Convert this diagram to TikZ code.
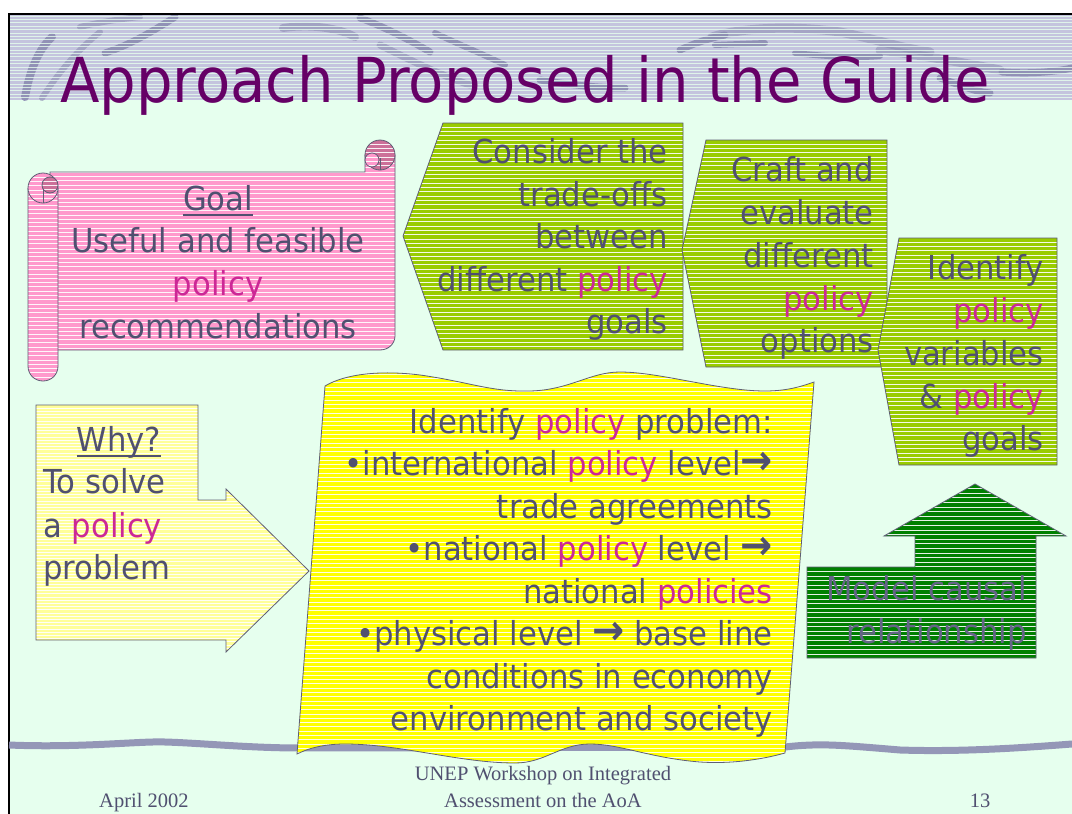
\documentclass[tikz,border=0pt]{standalone}
\usepackage{fontspec}
\setmainfont{DejaVu Sans}[FakeStretch=0.93]
\newfontfamily\footfont{Liberation Serif}
\definecolor{mint}{RGB}{230,255,238}
\definecolor{bandc}{RGB}{196,196,222}
\definecolor{swoosh}{RGB}{140,140,178}
\definecolor{titlec}{RGB}{102,0,102}
\definecolor{txtc}{RGB}{80,80,112}
\definecolor{polc}{RGB}{204,40,150}
\definecolor{modc}{RGB}{100,100,135}
\definecolor{edgec}{RGB}{95,95,118}
\definecolor{pinkc}{RGB}{255,153,204}
\definecolor{dpinkc}{RGB}{204,112,153}
\definecolor{greenc}{RGB}{153,204,0}
\definecolor{yellowc}{RGB}{255,255,0}
\definecolor{lyellowc}{RGB}{255,255,153}
\definecolor{dgreenc}{RGB}{0,128,0}
\definecolor{footc}{RGB}{80,80,112}
\newcommand\pw[1]{\textcolor{polc}{#1}}
\newcommand\arr{\raisebox{1pt}{\scalebox{1.25}{\bfseries →}}}
\tikzset{
  striped/.style 2 args={fill=#1, draw=edgec, line width=0.8pt,
     path picture={\foreach \k in {1,...,95}
        \draw[white, line width=0.9pt, opacity=0.9]
          ([yshift=-\k*#2]path picture bounding box.north west) --
          ([yshift=-\k*#2]path picture bounding box.north east);}},
  txt/.style={font=\fontsize{33}{43}\selectfont, text=txtc, inner sep=0pt},
  modtxt/.style={font=\fontsize{33}{43}\selectfont, text=modc, inner sep=0pt},
  foot/.style={font=\footfont\fontsize{20.5}{24}\selectfont, text=footc, inner sep=0pt},
  sw/.style={draw=swoosh, line cap=round, opacity=0.9},
  ul/.style={draw=txtc, line width=2pt},
}
\begin{document}
\begin{tikzpicture}[x=1pt,y=-1pt]
\useasboundingbox (0,0) rectangle (1072,814);
\fill[white] (0,0) rectangle (1072,814);
% frame and background
\fill[mint] (9,14) rectangle (1072,814);
\fill[bandc] (9,14) rectangle (1072,100);
% title swooshes
\draw[sw,line width=8pt] (25,97) .. controls (30,70) and (38,50) .. (52,37);
\draw[sw,line width=6pt,opacity=0.6] (42,98) .. controls (60,70) and (80,48) .. (100,32);
\draw[sw,line width=7pt] (105,53) .. controls (130,45) and (155,30) .. (175,17);
\draw[sw,line width=6pt,opacity=0.6] (80,27) .. controls (100,22) and (120,19) .. (140,17);
\draw[sw,line width=8pt,opacity=0.6] (283,28) .. controls (310,24) and (340,28) .. (355,37);
\draw[sw,line width=7pt] (360,18) .. controls (380,25) and (410,40) .. (430,52);
\draw[sw,line width=7pt,opacity=0.6] (380,45) .. controls (410,60) and (440,75) .. (470,85);
\draw[sw,line width=6pt] (435,33) .. controls (460,45) and (485,55) .. (505,65);
\draw[sw,line width=7pt] (540,80) .. controls (570,85) and (600,88) .. (625,88);
\draw[sw,line width=7pt] (680,50) .. controls (695,43) and (710,38) .. (725,35);
\draw[sw,line width=9pt,opacity=0.55] (712,37) .. controls (740,28) and (790,25) .. (840,32) .. controls (880,40) and (900,48) .. (930,52);
\draw[sw,line width=6pt] (715,45) -- (765,43);
\draw[sw,line width=6pt] (795,53) .. controls (830,57) and (860,58) .. (880,56);
\draw[sw,line width=9pt,opacity=0.55] (880,50) .. controls (920,55) and (960,62) .. (1000,70);
\draw[sw,line width=7pt] (940,78) .. controls (960,85) and (975,92) .. (990,93);
\draw[sw,line width=7pt] (1002,72) .. controls (1030,74) and (1055,72) .. (1072,68);
\foreach \k in {0,...,25} \draw[mint, line width=0.7pt, opacity=0.8] (9,16+\k*3.4) -- (1072,16+\k*3.4);
\draw[black,line width=1.3pt] (9,814) -- (9,14) -- (1072,14);
% bottom swoosh
\draw[sw,line width=7pt,line cap=butt] (9,745) .. controls (80,748) and (140,741) .. (165,742) .. controls (200,743) and (250,748) .. (300,748) -- (785,747) .. controls (820,743) and (840,745) .. (900,750) .. controls (960,752) and (1020,748) .. (1072,744);
% title
\node[anchor=base west, text=titlec, font=\fontsize{62}{70}\selectfont, inner sep=0pt] (title) at (60,102) {Approach Proposed in the Guide};

% Goal scroll
\path[striped={pinkc}{4.3pt}] (50,172) -- (365,172) -- (365,155) -- (395,155) -- (395,336) .. controls (395,344) and (388,350) .. (380,350) -- (50,350) -- cycle;
\path[striped={dpinkc}{4.3pt}] (380,155) circle[radius=15];
\draw[edgec,line width=0.8pt] (380,170) -- (380,158);
\path[striped={pinkc}{4.3pt}] (372,160) circle[radius=7];
\path[striped={pinkc}{4.3pt}] (28,188) -- (28,366) .. controls (28,375) and (35,381) .. (43,381) .. controls (51,381) and (58,375) .. (58,366) -- (58,188);
\path[striped={pinkc}{4.3pt}] (43,188) circle[radius=15];
\path[striped={dpinkc}{4.3pt}] (50,185) circle[radius=8];
\draw[edgec,line width=0.8pt] (43,190) -- (43,203);
\node[txt, anchor=base] (goal) at (218,210) {Goal};
\draw[ul] ([yshift=-5pt]goal.base west) -- ([yshift=-5pt]goal.base east);
\node[txt, anchor=base] (g1) at (218,252) {Useful and feasible};
\node[txt, anchor=base] (g2) at (218,295) {\pw{policy}};
\node[txt, anchor=base] (g3) at (218,338) {recommendations};

% pentagon 1
\path[striped={greenc}{4.3pt}] (443,123) -- (683,123) -- (683,350) -- (443,350) -- (403,236) -- cycle;
\node[txt, anchor=base east] (a1) at (668,163) {Consider the};
\node[txt, anchor=base east] (a2) at (668,206) {trade-offs};
\node[txt, anchor=base east] (a3) at (668,248) {between};
\node[txt, anchor=base east] (a4) at (668,291) {different \pw{policy}};
\node[txt, anchor=base east] (a5) at (668,333) {goals};
% pentagon 2
\path[striped={greenc}{4.3pt}] (706,140) -- (887,140) -- (887,367) -- (706,367) -- (682,250) -- cycle;
\node[txt, anchor=base east] (b1) at (874,181) {Craft and};
\node[txt, anchor=base east] (b2) at (874,224) {evaluate};
\node[txt, anchor=base east] (b3) at (874,267) {different};
\node[txt, anchor=base east] (b4) at (874,310) {\pw{policy}};
\node[txt, anchor=base east] (b5) at (874,352) {options};
% pentagon 3
\path[striped={greenc}{4.3pt}] (899,238) -- (1057,238) -- (1057,465) -- (899,465) -- (878,350) -- cycle;
\node[txt, anchor=base east] (c1) at (1044,279) {Identify};
\node[txt, anchor=base east] (c2) at (1044,322) {\pw{policy}};
\node[txt, anchor=base east] (c3) at (1044,365) {variables};
\node[txt, anchor=base east] (c4) at (1044,408) {\& \pw{policy}};
\node[txt, anchor=base east] (c5) at (1044,450) {goals};

% Why arrow
\path[striped={lyellowc}{3.2pt}] (36,405) -- (198,405) -- (198,500) -- (226,500) -- (226,489) -- (309,571) -- (226,652) -- (226,640) -- (36,640) -- cycle;
\node[txt, anchor=base] (why) at (119,451) {Why?};
\draw[ul] ([yshift=-5pt]why.base west) -- ([yshift=-5pt]why.base east);
\node[txt, anchor=base west] (w1) at (43,493) {To solve};
\node[txt, anchor=base west] (w2) at (43,537) {a \pw{policy}};
\node[txt, anchor=base west] (w3) at (43,579) {problem};

% yellow wave box
\path[striped={yellowc}{4.3pt}] (325,386) .. controls (345,374) and (380,370) .. (420,375) .. controls (470,382) and (490,392) .. (530,391) .. controls (570,390) and (590,372) .. (620,372) .. controls (660,372) and (720,391) .. (765,391) .. controls (790,391) and (805,385) .. (814,382) -- (785,753) .. controls (760,760) and (730,764) .. (700,762) .. controls (650,758) and (620,744) .. (590,744) .. controls (560,744) and (545,763) .. (515,763) .. controls (460,763) and (400,744) .. (345,744) .. controls (320,744) and (305,750) .. (297,754) -- cycle;
\node[txt, anchor=base east] (y1) at (773,433) {Identify \pw{policy} problem:};
\node[txt, anchor=base east] (y2) at (773,475) {•international \pw{policy} level\arr};
\node[txt, anchor=base east] (y3) at (773,518) {trade agreements};
\node[txt, anchor=base east] (y4) at (773,560) {•national \pw{policy} level \arr};
\node[txt, anchor=base east] (y5) at (773,603) {national \pw{policies}};
\node[txt, anchor=base east] (y6) at (773,645) {•physical level \arr{} base line};
\node[txt, anchor=base east] (y7) at (773,688) {conditions in economy};
\node[txt, anchor=base east] (y8) at (773,730) {environment and society};

% Model arrow
\path[striped={dgreenc}{4.6pt}] (807,567) -- (915,567) -- (915,536) -- (884,536) -- (975,484) -- (1066,536) -- (1036,536) -- (1036,658) -- (807,658) -- cycle;
\node[modtxt, anchor=base east] (m1) at (1027,600) {Model causal};
\node[modtxt, anchor=base east] (m2) at (1027,643) {relationship};

% footer
\node[foot, anchor=base] (f1) at (543,780) {UNEP Workshop on Integrated};
\node[foot, anchor=base] (f2) at (543,807) {Assessment on the AoA};
\node[foot, anchor=base west] (f3) at (99,807) {April 2002};
\node[foot, anchor=base] (f4) at (980,807) {13};
\end{tikzpicture}
\end{document}
